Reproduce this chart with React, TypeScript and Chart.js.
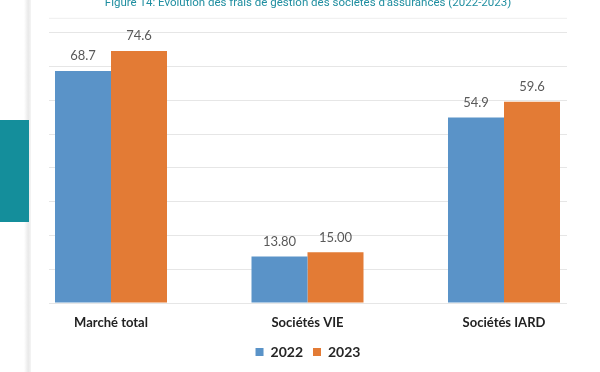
import React, { useEffect, useRef } from "react";
import { Chart, registerables } from "chart.js";

Chart.register(...registerables);

const categories = ["Marché total", "Sociétés VIE", "Sociétés IARD"];
const seriesNames = ["2022", "2023"];
const values2022 = [68.7, 13.8, 54.9];
const values2023 = [74.6, 15.0, 59.6];
const labels2022 = ["68.7", "13.80", "54.9"];
const labels2023 = ["74.6", "15.00", "59.6"];
const titleText = "Figure 14: Evolution des frais de gestion des sociétés d'assurances (2022-2023)";

const BLUE = "#5a93c8";
const ORANGE = "#e37b35";
const GRID = "#e6e6e6";

const dataLabelPlugin = {
  id: "dataLabels",
  beforeDatasetsDraw(chart: any) {
    const { ctx, chartArea } = chart;
    ctx.save();
    ctx.strokeStyle = "#eeeeee";
    ctx.lineWidth = 1;
    ctx.beginPath();
    ctx.moveTo(chartArea.left, chartArea.top - 14.5);
    ctx.lineTo(chartArea.right, chartArea.top - 14.5);
    ctx.stroke();
    ctx.restore();
  },
  afterDatasetsDraw(chart: any) {
    const { ctx } = chart;
    const allLabels = [labels2022, labels2023];
    ctx.save();
    ctx.font = "13px Lato";
    ctx.fillStyle = "#595959";
    ctx.textAlign = "center";
    ctx.textBaseline = "middle";
    chart.data.datasets.forEach((_: any, di: number) => {
      const meta = chart.getDatasetMeta(di);
      meta.data.forEach((bar: any, i: number) => {
        ctx.fillText(allLabels[di][i], bar.x, bar.y - 15);
      });
    });
    ctx.restore();
  },
};

export default function App() {
  const ref = useRef<HTMLCanvasElement | null>(null);

  useEffect(() => {
    if (!ref.current) return;
    const spacing = 196.5;
    const chart = new Chart(ref.current, {
      type: "bar",
      data: {
        datasets: [
          {
            label: seriesNames[0],
            data: values2022.map((v, i) => ({ x: i, y: v })),
            backgroundColor: BLUE,
            borderWidth: 0,
          },
          {
            label: seriesNames[1],
            data: values2023.map((v, i) => ({ x: i, y: v })),
            backgroundColor: ORANGE,
            borderWidth: 0,
          },
        ],
      },
      options: {
        animation: false,
        responsive: false,
        events: [],
        categoryPercentage: 0.57,
        barPercentage: 1.0,
        layout: { padding: { left: 49, right: 33, top: 0, bottom: 3 } },
        plugins: {
          title: {
            display: true,
            text: titleText,
            color: "#1f8ea0",
            font: { family: "'Liberation Sans Narrow', Roboto, sans-serif", size: 11.5, weight: "normal" },
            padding: { top: -4, bottom: 23 },
          },
          legend: {
            display: true,
            position: "bottom",
            labels: {
              font: { family: "Lato", size: 14, weight: "bold" },
              color: "#262626",
              boxWidth: 8,
              boxHeight: 8,
              padding: 10,
            },
          },
          tooltip: { enabled: false },
        },
        scales: {
          x: {
            type: "linear",
            offset: false,
            min: -62 / spacing,
            max: 2 + 63 / spacing,
            grid: { display: false },
            border: { display: false },
            afterBuildTicks: (scale: any) => {
              scale.ticks = categories.map((_, i) => ({ value: i }));
            },
            afterFit: (scale: any) => {
              scale.height = 32;
            },
            ticks: {
              autoSkip: false,
              maxRotation: 0,
              padding: 4,
              color: "#222222",
              font: { family: "Lato", size: 13, weight: "bold" },
              callback: (value: any) => categories[Math.round(value)] ?? "",
            },
          },
          y: {
            min: 0,
            max: 80,
            grid: { color: GRID, drawTicks: false },
            border: { display: false },
            ticks: { display: false, stepSize: 10 },
            afterFit: (scale: any) => {
              scale.width = 0;
            },
          },
        },
      } as any,
      plugins: [dataLabelPlugin],
    });
    return () => chart.destroy();
  }, []);

  return (
    <div style={{ position: "fixed", left: 0, top: 0, width: 600, height: 372, background: "#ffffff", overflow: "hidden" }}>
      <div style={{ position: "absolute", left: 24, top: 0, width: 7, height: 372, background: "linear-gradient(to right, #ffffff, #e9e9e9 60%, #f4f4f4)" }} />
      <div style={{ position: "absolute", left: 0, top: 120, width: 29, height: 102, background: "#148e9b" }} />
      <canvas ref={ref} width={600} height={372} style={{ position: "absolute", left: 0, top: 0, width: 600, height: 372 }} />
    </div>
  );
}
